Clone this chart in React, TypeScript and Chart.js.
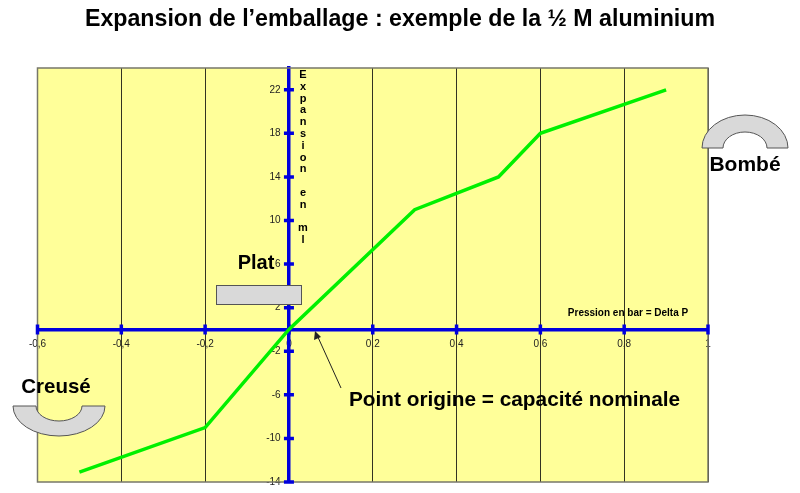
import React, { useEffect, useRef } from 'react';
import Chart from 'chart.js/auto';

const TITLE = 'Expansion de l’emballage : exemple de la ½ M aluminium';
const pressure = [-0.5, -0.2, 0, 0.3, 0.5, 0.6, 0.9];
const expansion = [-13.1, -9, 0, 11, 14, 18, 22];
const xTickValues = [-0.6, -0.4, -0.2, 0, 0.2, 0.4, 0.6, 0.8, 1];
const xTickLabels = ['-0,6', '-0,4', '-0,2', '0', '0,2', '0,4', '0,6', '0,8', '1'];
const yTickValues = [-14, -10, -6, -2, 2, 6, 10, 14, 18, 22];
const yAxisLetters = 'Expansion en ml'.split('');

const FONT = '"Liberation Sans", Arial, sans-serif';
const BLUE = '#0000dd';
const SHAPE_FILL = '#d9d9d9';
const SHAPE_STROKE = '#555555';

const drawLabel = (ctx: CanvasRenderingContext2D, text: string, x: number, y: number, size: number) => {
  ctx.font = `bold ${size}px ${FONT}`;
  ctx.fillStyle = '#000000';
  ctx.textAlign = 'center';
  ctx.textBaseline = 'middle';
  ctx.fillText(text, x, y);
};

// demi-anneau, up = true pour le bombé
const drawHalfRing = (ctx: CanvasRenderingContext2D, cx: number, baseY: number, rx: number, ry: number, irx: number, iry: number, up: boolean) => {
  ctx.beginPath();
  ctx.ellipse(cx, baseY, rx, ry, 0, Math.PI, 0, !up);
  ctx.ellipse(cx, baseY, irx, iry, 0, 0, Math.PI, up);
  ctx.closePath();
  ctx.fillStyle = SHAPE_FILL;
  ctx.strokeStyle = SHAPE_STROKE;
  ctx.lineWidth = 1;
  ctx.fill();
  ctx.stroke();
};

const plotBackground = {
  id: 'plotBackground',
  beforeDraw(chart: Chart) {
    const { ctx, chartArea: a } = chart;
    ctx.save();
    ctx.fillStyle = '#ffff99';
    ctx.fillRect(a.left, a.top, a.width, a.height);
    ctx.restore();
  },
  beforeDatasetsDraw(chart: Chart) {
    const { ctx, chartArea: a, scales } = chart;
    ctx.save();
    ctx.strokeStyle = '#77776a';
    ctx.lineWidth = 1.5;
    ctx.strokeRect(a.left, a.top, a.width, a.height);

    // petites graduations bleues de part et d'autre des axes
    const x0 = scales.x.getPixelForValue(0);
    const y0 = scales.y.getPixelForValue(0);
    ctx.strokeStyle = BLUE;
    ctx.lineWidth = 3.5;
    ctx.beginPath();
    xTickValues.forEach((v) => {
      const px = scales.x.getPixelForValue(v);
      ctx.moveTo(px, y0 - 5);
      ctx.lineTo(px, y0 + 5);
    });
    yTickValues.forEach((v) => {
      const py = scales.y.getPixelForValue(v);
      ctx.moveTo(x0 - 5, py);
      ctx.lineTo(x0 + 5, py);
    });
    ctx.stroke();
    ctx.restore();
  },
};

const annotations = {
  id: 'annotations',
  afterDatasetsDraw(chart: Chart) {
    const { ctx } = chart;
    ctx.save();

    // le titre du plugin serait centré sur la zone moins le padding, donc dessiné ici
    drawLabel(ctx, TITLE, 400, 20, 23.2);

    yAxisLetters.forEach((letter, i) => {
      if (letter !== ' ') drawLabel(ctx, letter, 303, 75 + i * 11.8, 11);
    });

    drawLabel(ctx, 'Pression en bar = Delta P', 628, 313, 10);
    drawLabel(ctx, 'Plat', 256, 263, 20);
    drawLabel(ctx, 'Bombé', 745, 165, 21);
    drawLabel(ctx, 'Creusé', 56, 387, 20.5);
    drawLabel(ctx, 'Point origine = capacité nominale', 514.5, 400, 20.8);

    ctx.fillStyle = SHAPE_FILL;
    ctx.strokeStyle = SHAPE_STROKE;
    ctx.lineWidth = 1;
    ctx.fillRect(216.5, 285.5, 85, 19);
    ctx.strokeRect(216.5, 285.5, 85, 19);

    drawHalfRing(ctx, 745, 148, 43, 33, 22, 16, true);
    drawHalfRing(ctx, 59, 406, 46, 30, 23, 15, false);

    // flèche vers le point origine
    ctx.strokeStyle = '#222222';
    ctx.fillStyle = '#222222';
    ctx.lineWidth = 1;
    ctx.beginPath();
    ctx.moveTo(341, 388);
    ctx.lineTo(317, 335);
    ctx.stroke();
    ctx.beginPath();
    ctx.moveTo(315, 331);
    ctx.lineTo(314, 340);
    ctx.lineTo(321, 337);
    ctx.closePath();
    ctx.fill();

    ctx.restore();
  },
};

const App: React.FC = () => {
  const chartRef = useRef<HTMLCanvasElement>(null);

  useEffect(() => {
    document.body.style.margin = '0';
    if (!chartRef.current) return;

    const chart = new Chart(chartRef.current, {
      type: 'line',
      data: {
        datasets: [{
          label: 'Expansion en ml',
          data: pressure.map((p, i) => ({ x: p, y: expansion[i] })),
          borderColor: '#00f000',
          borderWidth: 3.5,
          pointRadius: 0,
          tension: 0,
          clip: false,
        }],
      },
      options: {
        responsive: false,
        animation: false,
        layout: { padding: { left: 37.5, right: 92, top: 68, bottom: 11 } },
        plugins: {
          legend: { display: false },
          tooltip: { enabled: false },
          title: { display: false },
        },
        scales: {
          x: {
            type: 'linear',
            position: { y: 0 },
            min: -0.6,
            max: 1,
            afterBuildTicks: (axis) => {
              axis.ticks = xTickValues.map((value) => ({ value }));
            },
            grid: { color: '#333322', lineWidth: 1, drawTicks: false, z: -1 },
            border: { color: BLUE, width: 3.5 },
            ticks: {
              z: -2,
              padding: 9,
              maxRotation: 0,
              autoSkip: false,
              color: '#222222',
              font: { family: FONT, size: 10 },
              callback: (value) => xTickLabels[xTickValues.indexOf(Number(value))],
            },
          },
          y: {
            type: 'linear',
            position: { x: 0 },
            min: -14,
            max: 24,
            afterBuildTicks: (axis) => {
              axis.ticks = yTickValues.map((value) => ({ value }));
            },
            grid: { drawOnChartArea: false, drawTicks: false },
            border: { color: BLUE, width: 3.5 },
            ticks: {
              autoSkip: false,
              color: '#222222',
              font: { family: FONT, size: 10 },
              // le padding est ignoré quand l'axe est positionné sur x: 0
              callback: (value) => `${value}   `,
            },
          },
        },
      },
      plugins: [plotBackground, annotations],
    });

    return () => chart.destroy();
  }, []);

  return <canvas ref={chartRef} width={800} height={493} style={{ display: 'block' }} />;
};

export default App;
